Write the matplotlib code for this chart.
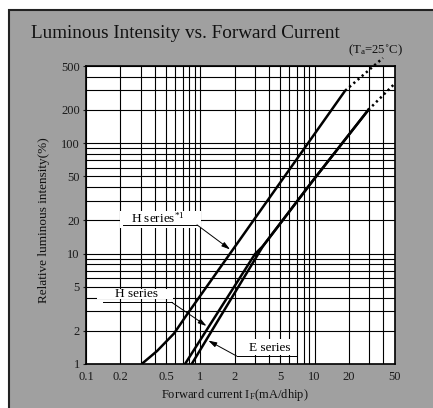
import matplotlib
matplotlib.use("Agg")
import matplotlib.pyplot as plt
from matplotlib.patches import Rectangle
from matplotlib.ticker import FixedLocator, FixedFormatter, LogLocator, NullFormatter

plt.rcParams['font.family'] = ['Liberation Serif', 'DejaVu Serif']
plt.rcParams['mathtext.fontset'] = 'custom'
plt.rcParams['mathtext.rm'] = 'Liberation Serif'
plt.rcParams['mathtext.it'] = 'Liberation Serif:italic'

# Data (IF in mA, relative intensity in %)
h1_if = [0.307, 0.418, 0.589, 0.76, 18.5]
h1_iv = [1.0, 1.31, 1.89, 2.78, 299]
h1_if_ext = [18.5, 39.6]
h1_iv_ext = [299, 591]

h_if = [0.735, 3.01, 3.54, 9.75, 29.5]
h_iv = [1.0, 9.92, 11.72, 46.4, 200]
e_if = [0.841, 3.54, 9.75, 29.5]
e_iv = [1.0, 11.72, 46.4, 200]
he_if_ext = [29.5, 48.9]
he_iv_ext = [200, 337]

x_ticks = [0.1, 0.2, 0.5, 1, 2, 5, 10, 20, 50]
x_labels = ['0.1', '0.2', '0.5', '1', '2', '5', '10', '20', '50']
y_ticks = [1, 2, 5, 10, 20, 50, 100, 200, 500]
y_labels = ['1', '2', '5', '10', '20', '50', '100', '200', '500']

W, H = 433, 408
fig = plt.figure(figsize=(W / 100, H / 100), dpi=100, facecolor='white')

# gray panel with dark frame
fig.patches.append(Rectangle((8.5 / W, -0.02), 1.1, 1 - 9.5 / H + 0.02,
                             transform=fig.transFigure, facecolor='#a0a0a0',
                             edgecolor='#222222', lw=1.5, zorder=-5))

ax = fig.add_axes([86 / W, 1 - 364 / H, 308.5 / W, 298 / H])
ax.set_zorder(2)
ax.set_facecolor('white')
ax.set_xscale('log')
ax.set_yscale('log')
ax.set_xlim(0.1, 50)
ax.set_ylim(1, 500)

ax.xaxis.set_major_locator(FixedLocator(x_ticks))
ax.xaxis.set_major_formatter(FixedFormatter(x_labels))
ax.yaxis.set_major_locator(FixedLocator(y_ticks))
ax.yaxis.set_major_formatter(FixedFormatter(y_labels))
ax.xaxis.set_minor_locator(LogLocator(base=10, subs=range(2, 10)))
ax.yaxis.set_minor_locator(LogLocator(base=10, subs=range(2, 10)))
ax.xaxis.set_minor_formatter(NullFormatter())
ax.yaxis.set_minor_formatter(NullFormatter())
ax.tick_params(which='minor', length=0)
ax.tick_params(which='major', length=2.5, width=0.8, direction='out',
               labelsize=9, colors='#1a1a1a', pad=2)
ax.tick_params(axis='x', which='major', length=0, pad=5)

ax.set_axisbelow(True)
ax.grid(True, which='both', color='black', lw=0.8)
for s in ax.spines.values():
    s.set_linewidth(1.2)

# white boxes behind the series labels
for (x0, x1, y0, y1) in [(0.198, 1.01, 17.1, 24.3), (0.125, 0.577, 3.85, 4.75),
                         (2.2, 6.6, 1.2, 1.7)]:
    ax.add_patch(Rectangle((x0, y0), x1 - x0, y1 - y0, facecolor='white',
                           edgecolor='none', zorder=1.5))

# curves
ax.plot(h1_if, h1_iv, color='black', lw=1.8, zorder=3, solid_capstyle='butt')
ax.plot(h1_if_ext, h1_iv_ext, color='black', lw=1.8, ls=(0, (0.9, 1.3)),
        zorder=3, clip_on=False)
ax.plot(h_if, h_iv, color='black', lw=1.8, zorder=3)
ax.plot(e_if, e_iv, color='black', lw=1.8, zorder=3)
ax.plot(he_if_ext, he_iv_ext, color='black', lw=1.8, ls=(0, (0.9, 1.3)),
        zorder=3, clip_on=False)

# series labels with leader lines
arrow = dict(arrowstyle='-|>,head_length=0.5,head_width=0.15', color='black',
             lw=0.7, shrinkA=0, shrinkB=0)
ax.text(0.43, 21.0, r'H series$^{\mathrm{*1}}$', fontsize=9.5, ha='center',
        va='center', zorder=4)
ax.plot([0.211, 0.936], [18.2, 18.2], color='black', lw=0.7, zorder=4)
ax.annotate('', xy=(1.82, 10.9), xytext=(0.936, 18.2), arrowprops=arrow, zorder=4)

ax.text(0.278, 4.28, 'H series', fontsize=9.5, ha='center', va='center', zorder=4)
ax.plot([0.142, 0.562], [3.62, 3.62], color='black', lw=0.7, zorder=4)
ax.annotate('', xy=(1.133, 2.21), xytext=(0.562, 3.62), arrowprops=arrow, zorder=4)

ax.text(4.07, 1.40, 'E series', fontsize=9.5, ha='center', va='center', zorder=4)
ax.plot([2.08, 6.97], [1.18, 1.18], color='black', lw=0.7, zorder=4)
ax.annotate('', xy=(1.175, 1.63), xytext=(2.08, 1.18), arrowprops=arrow, zorder=4)

# titles and labels
fig.text(31 / W, 1 - 38 / H, 'Luminous Intensity vs. Forward Current',
         fontsize=13.8, ha='left', va='baseline', color='#111111')
fig.text(403 / W, 1 - 50 / H, r'(T$_\mathrm{a}$=25˚C)', fontsize=9.2,
         ha='right', va='center', color='#111111')
fig.text(44 / W, 1 - 220 / H, 'Relative luminous intensity(%)', fontsize=9.5,
         rotation=90, ha='center', va='center', color='#111111')
fig.text(235 / W, 1 - 395 / H, r'Forward current I$_\mathrm{F}$(mA/dhip)',
         fontsize=9, ha='center', va='center', color='#111111')

fig.savefig('out.png', dpi=100)
